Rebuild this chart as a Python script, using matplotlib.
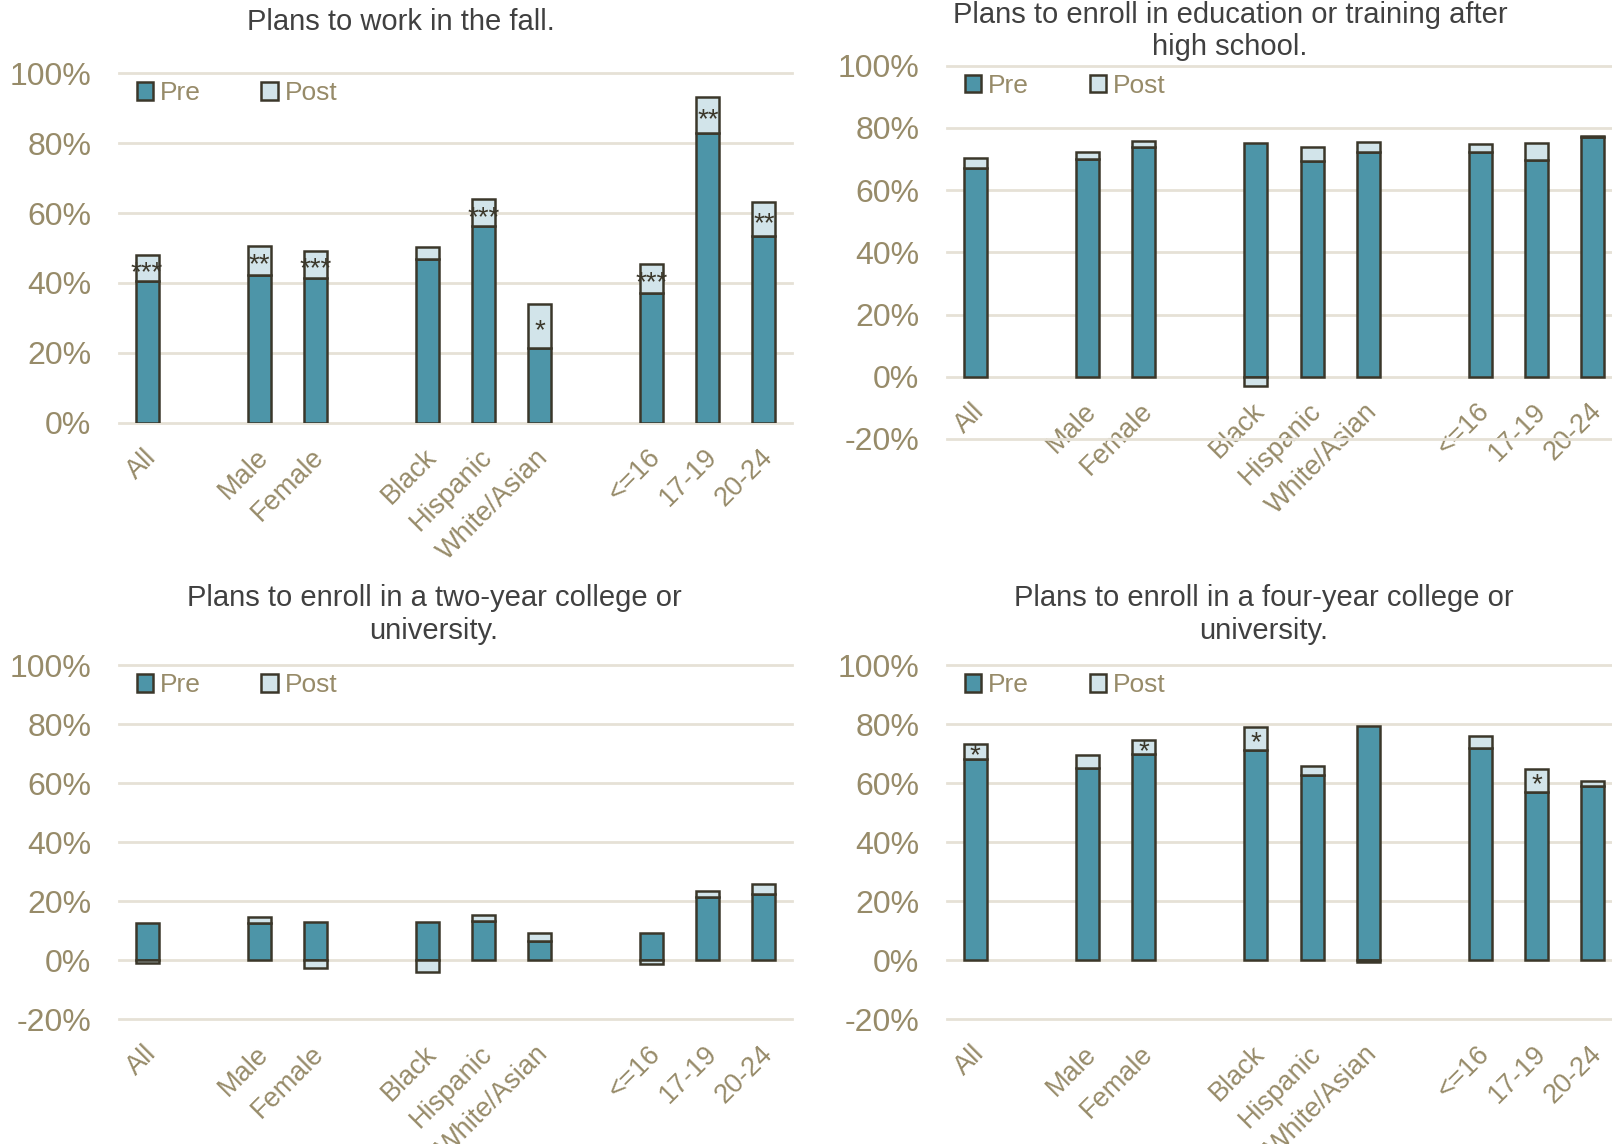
import matplotlib.pyplot as plt
import matplotlib.transforms as mtransforms
import numpy as np

plt.rcParams["font.family"] = ["Liberation Sans", "DejaVu Sans"]

# categories, split into groups (overall / sex / race / age)
groups = [["All"], ["Male", "Female"], ["Black", "Hispanic", "White/Asian"], ["<=16", "17-19", "20-24"]]
categories = [c for g in groups for c in g]

# pre-period share and the pre->post change, in percent
work_pre = [40.5, 42.3, 41.4, 46.8, 56.2, 21.4, 37.0, 82.8, 53.3]
work_change = [7.5, 8.4, 7.8, 3.6, 7.7, 12.5, 8.4, 10.4, 9.9]
work_sig = ["***", "**", "***", "", "***", "*", "***", "**", "**"]

educ_pre = [67.2, 70.1, 73.9, 75.2, 69.5, 72.1, 72.3, 69.6, 77.1]
educ_change = [3.1, 2.2, 2.0, -3.1, 4.5, 3.3, 2.4, 5.4, 0.3]
educ_sig = [""] * 9

twoyr_pre = [12.8, 12.6, 13.0, 13.1, 13.2, 6.5, 9.4, 21.4, 22.6]
twoyr_change = [-0.8, 2.1, -2.5, -4.0, 2.3, 2.8, -1.3, 2.1, 3.4]
twoyr_sig = [""] * 9

fouryr_pre = [68.2, 65.2, 69.8, 71.3, 62.8, 79.5, 72.1, 57.1, 59.1]
fouryr_change = [5.0, 4.4, 5.0, 7.8, 3.2, -0.7, 4.0, 7.6, 1.8]
fouryr_sig = ["*", "", "*", "*", "", "", "", "*", ""]

COLORS = {"pre": "#4D95A8", "post": "#D2E4EA", "edge": "#3B372A",
          "grid": "#E6E1D6", "tick": "#978B69", "title": "#404040"}

# x positions with one empty slot between groups
positions = []
x = 0
for g in groups:
    for _ in g:
        positions.append(x)
        x += 1
    x += 1
positions = np.array(positions)

fig = plt.figure(figsize=(16.12, 11.44), dpi=100)
W, H = 1612, 1144


def px_rect(x0, x1, ytop, ybot):
    return [x0 / W, 1 - ybot / H, (x1 - x0) / W, (ybot - ytop) / H]


panels = [
    dict(rect=px_rect(119, 792, 73.3, 422.6), ylim=(0, 100), pre=work_pre, change=work_change,
         sig=work_sig, title="Plans to work in the fall.", tx=401, ty=21.6, labels_at_zero=False),
    dict(rect=px_rect(947, 1621, 65.7, 439.0), ylim=(-20, 100), pre=educ_pre, change=educ_change,
         sig=educ_sig, title="Plans to enroll in education or training after\nhigh school.",
         tx=1230, ty=31.0, labels_at_zero=True),
    dict(rect=px_rect(119, 792, 665.3, 1019.3), ylim=(-20, 100), pre=twoyr_pre, change=twoyr_change,
         sig=twoyr_sig, title="Plans to enroll in a two-year college or\nuniversity.",
         tx=434, ty=614.5, labels_at_zero=False),
    dict(rect=px_rect(947, 1621, 665.3, 1019.3), ylim=(-20, 100), pre=fouryr_pre, change=fouryr_change,
         sig=fouryr_sig, title="Plans to enroll in a four-year college or\nuniversity.",
         tx=1264, ty=614.5, labels_at_zero=False),
]

for p in panels:
    ax = fig.add_axes(p["rect"])
    pre = np.array(p["pre"])
    change = np.array(p["change"])
    post_bottom = np.where(change >= 0, pre, 0)

    ax.bar(positions, pre, width=0.41, color=COLORS["pre"], edgecolor=COLORS["edge"],
           linewidth=1.8, label="Pre", zorder=3)
    ax.bar(positions, change, bottom=post_bottom, width=0.41, color=COLORS["post"],
           edgecolor=COLORS["edge"], linewidth=1.8, label="Post", zorder=3)

    # significance stars inside the post segment
    for xi, b, c, s in zip(positions, post_bottom, change, p["sig"]):
        if s:
            ax.annotate(s, (xi, b + c / 2), xytext=(0, -3.5), textcoords="offset points",
                        ha="center", va="center", fontsize=20, color=COLORS["edge"], zorder=4)

    ax.set_xlim(-0.5, positions[-1] + 0.5)
    ax.set_ylim(*p["ylim"])
    yt = np.arange(p["ylim"][0], 101, 20)
    ax.set_yticks(yt)
    ax.set_yticklabels([f"{v:.0f}%" for v in yt])
    ax.grid(axis="y", color=COLORS["grid"], linewidth=2)
    ax.set_axisbelow(True)
    for line in ax.get_ygridlines():
        line.set_clip_on(False)
    for sp in ax.spines.values():
        sp.set_visible(False)
    if p["labels_at_zero"]:
        ax.spines["bottom"].set_position(("data", 0))

    ax.set_xticks(positions)
    ax.set_xticklabels(categories, rotation=45, ha="right", va="center", rotation_mode="anchor")
    ax.tick_params(axis="x", length=0, pad=22, labelsize=19.5, labelcolor=COLORS["tick"])
    ax.tick_params(axis="y", length=0, pad=20, labelsize=23, labelcolor=COLORS["tick"])
    shift = mtransforms.ScaledTranslation(0.05, 0, fig.dpi_scale_trans)
    for lbl in ax.get_xticklabels():
        lbl.set_transform(lbl.get_transform() + shift)

    top_px = p["rect"][3] * H
    ax.legend(loc="center left", bbox_to_anchor=(0.0267, 1 - 20 / top_px), ncol=2,
              frameon=False, fontsize=19, labelcolor=COLORS["tick"], borderpad=0,
              handlelength=0.62, handleheight=0.62, handletextpad=0.25, columnspacing=2.3,
              borderaxespad=0)

    fig.text(p["tx"] / W, 1 - p["ty"] / H, p["title"], ha="center", va="center",
             fontsize=21, color=COLORS["title"], linespacing=1.2)

fig.savefig("out.png", dpi=100)
